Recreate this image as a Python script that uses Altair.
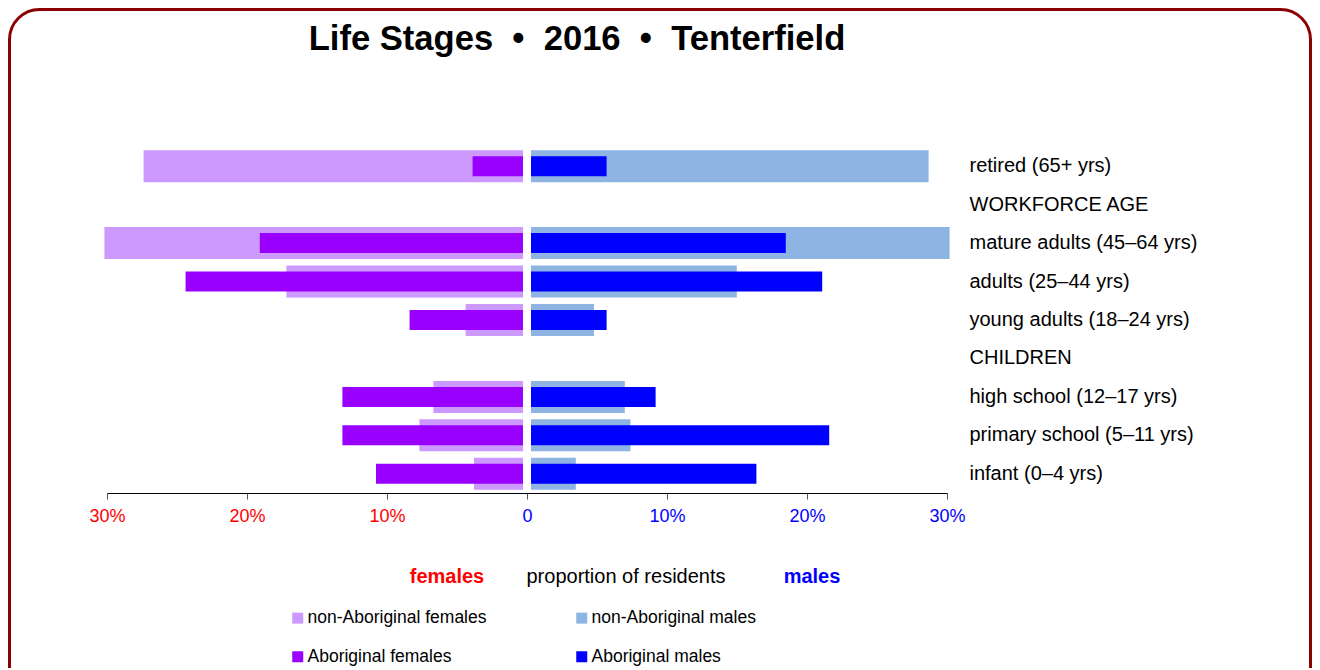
import altair as alt
import pandas as pd

# ---- data ----
title_text = "Life Stages\u00a0\u00a0•\u00a0\u00a02016\u00a0\u00a0•\u00a0\u00a0Tenterfield"
row_order = [
    "retired (65+ yrs)", "WORKFORCE AGE", "mature adults (45–64 yrs)",
    "adults (25–44 yrs)", "young adults (18–24 yrs)", "CHILDREN",
    "high school (12–17 yrs)", "primary school (5–11 yrs)", "infant (0–4 yrs)",
]
stages = [
    "retired (65+ yrs)", "mature adults (45–64 yrs)", "adults (25–44 yrs)",
    "young adults (18–24 yrs)", "high school (12–17 yrs)",
    "primary school (5–11 yrs)", "infant (0–4 yrs)",
]
non_ab_females = [27.1, 29.9, 16.9, 4.1, 6.4, 7.4, 3.5]
ab_females = [3.6, 18.8, 24.1, 8.1, 12.9, 12.9, 10.5]
non_ab_males = [28.4, 29.9, 14.7, 4.5, 6.7, 7.1, 3.2]
ab_males = [5.4, 18.2, 20.8, 5.4, 8.9, 21.3, 16.1]

# legend order (filled column by column)
series_names = ["non-Aboriginal females", "Aboriginal females",
                "non-Aboriginal males", "Aboriginal males"]
series_colors = ["#cc99ff", "#9900ff", "#8db4e2", "#0000ff"]
tick_values = [-30, -20, -10, 0, 10, 20, 30]
header_labels = ["females", "proportion of residents", "males"]

series_values = {
    "non-Aboriginal females": non_ab_females,
    "Aboriginal females": ab_females,
    "non-Aboriginal males": non_ab_males,
    "Aboriginal males": ab_males,
}
records = []
for name in series_names:
    for s, v in zip(stages, series_values[name]):
        records.append({"stage": s, "series": name, "value": v})
df = pd.DataFrame(records)

FONT = "Liberation Sans, Arial, Helvetica, sans-serif"

W, H = 840, 346

yscale = alt.Scale(domain=row_order, paddingInner=0, paddingOuter=0)
yaxis = alt.Axis(orient="right", labelFont=FONT, labelFontSize=20,
                 labelColor="black", labelPadding=22, ticks=False,
                 domain=False, title=None, labelLimit=400, grid=False)
cscale = alt.Scale(domain=series_names, range=series_colors)
legend = alt.Legend(
    title=None, orient="none", legendX=182, legendY=462, columns=2,
    symbolType="square", symbolSize=121, symbolStrokeWidth=0,
    labelFont=FONT, labelFontSize=17.5, labelColor="black", labelLimit=400,
    columnPadding=86, rowPadding=20, labelOffset=1,
)
fscale = alt.Scale(domain=[0, 30], range=[416, -4], nice=False, zero=True)
mscale = alt.Scale(domain=[0, 30], range=[424, 844], nice=False, zero=True)

base = alt.Chart(df)


def bars(name, scale, size):
    return base.transform_filter(alt.datum.series == name).mark_bar(size=size).encode(
        x=alt.X("value:Q", scale=scale, axis=None),
        y=alt.Y("stage:N", scale=yscale, axis=yaxis, sort=row_order),
        color=alt.Color("series:N", scale=cscale, legend=legend),
    )


f_non = bars("non-Aboriginal females", fscale, 32)
f_ab = bars("Aboriginal females", fscale, 20)
m_non = bars("non-Aboriginal males", mscale, 32)
m_ab = bars("Aboriginal males", mscale, 20)

axis_layer = alt.Chart(pd.DataFrame({"t": tick_values})).mark_point(opacity=0).encode(
    x=alt.X("t:Q", scale=alt.Scale(domain=[-30, 30], range=[0, W], nice=False),
            axis=alt.Axis(values=tick_values, title=None, grid=False,
                          labelExpr="datum.value == 0 ? '0' : abs(datum.value) + '%'",
                          labelColor={"condition": {"test": "datum.value < 0", "value": "#ff0000"},
                                      "value": "#0000ff"},
                          labelFont=FONT, labelFontSize=18, labelPadding=8,
                          tickSize=6, tickColor="#555555", domainColor="black",
                          domainWidth=1.2, labelFlush=False)),
)

dummy = pd.DataFrame({"a": [0]})
border = alt.Chart(dummy).mark_rect(
    fillOpacity=0, stroke="#8b0000", strokeWidth=3, cornerRadius=30
).encode(x=alt.value(-97.5), x2=alt.value(1203.5), y=alt.value(-137.5), y2=alt.value(580))

title = alt.Chart(dummy).mark_text(font=FONT, fontSize=34.6, fontWeight="bold",
                                   color="black", baseline="middle").encode(
    text=alt.value(title_text), x=alt.value(470), y=alt.value(-107))

hdr_f = alt.Chart(dummy).mark_text(font=FONT, fontSize=20, fontWeight="bold",
                                   color="#ff0000").encode(
    text=alt.value(header_labels[0]), x=alt.value(340), y=alt.value(430))
hdr_p = alt.Chart(dummy).mark_text(font=FONT, fontSize=20, color="black").encode(
    text=alt.value(header_labels[1]), x=alt.value(519), y=alt.value(430))
hdr_m = alt.Chart(dummy).mark_text(font=FONT, fontSize=20, fontWeight="bold",
                                   color="#0000ff").encode(
    text=alt.value(header_labels[2]), x=alt.value(705), y=alt.value(430))

chart = alt.layer(
    border, title, f_non, f_ab, m_non, m_ab, axis_layer, hdr_f, hdr_p, hdr_m
).resolve_scale(x="independent").properties(
    width=W, height=H,
    padding={"left": 99, "top": 139, "right": 365, "bottom": 175},
    autosize=alt.AutoSizeParams(type="none"),
).configure(background="white").configure_view(strokeWidth=0)

chart.save("out.html", embed_options={"renderer": "svg", "actions": False})
